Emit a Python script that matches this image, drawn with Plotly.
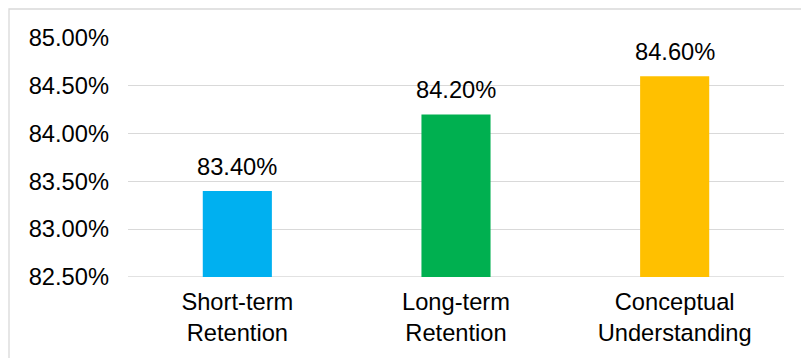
import plotly.graph_objects as go

categories = ["Short-term<br>Retention", "Long-term<br>Retention", "Conceptual<br>Understanding"]
values = [83.40, 84.20, 84.60]
colors = ["#00B0F0", "#00B050", "#FFC000"]
tick_vals = [82.5, 83.0, 83.5, 84.0, 84.5, 85.0]
tick_text = ["82.50%", "83.00%", "83.50%", "84.00%", "84.50%", "85.00%"]
axis_min = 82.5
axis_max = 85.0

W, H = 801, 358
L, R, T, B = 128, 17, 38, 81
pw, ph = W - L - R, H - T - B

FONT = dict(family="Liberation Sans, Arial, sans-serif", size=23.7, color="#000000")

fig = go.Figure()
fig.add_trace(go.Bar(
    x=categories, y=[v - axis_min for v in values], base=axis_min,
    marker=dict(color=colors, line=dict(width=0)),
    width=0.316, hoverinfo="skip"
))

for c, v in zip(categories, values):
    fig.add_annotation(x=c, y=v, text=f"{v:.2f}%", showarrow=False,
                       yanchor="bottom", yshift=9, font=FONT)

def px_x(p):
    return (p - L) / pw

def px_y(p):
    return (H - B - p) / ph

fig.add_shape(type="rect", xref="paper", yref="paper",
              x0=px_x(9), x1=px_x(820), y0=px_y(380), y1=px_y(9),
              line=dict(color="#D9D9D9", width=1.3), layer="below")

fig.update_layout(
    width=W, height=H,
    margin=dict(l=L, r=R, t=T, b=B),
    paper_bgcolor="white", plot_bgcolor="white",
    showlegend=False, font=FONT,
    xaxis=dict(showgrid=False, showline=False, zeroline=False, ticks="",
               tickfont=FONT, ticklabelstandoff=8),
    yaxis=dict(range=[axis_min, axis_max], tickvals=tick_vals, ticktext=tick_text,
               showgrid=True, gridcolor="#D9D9D9", gridwidth=1.2,
               zeroline=False, showline=False, ticks="", tickfont=FONT,
               ticklabelstandoff=18),
)
fig.add_shape(type="line", xref="paper", yref="y", x0=0, x1=1, y0=axis_min, y1=axis_min,
              line=dict(color="#D9D9D9", width=1.3), layer="below")

fig.write_html("out.html")
